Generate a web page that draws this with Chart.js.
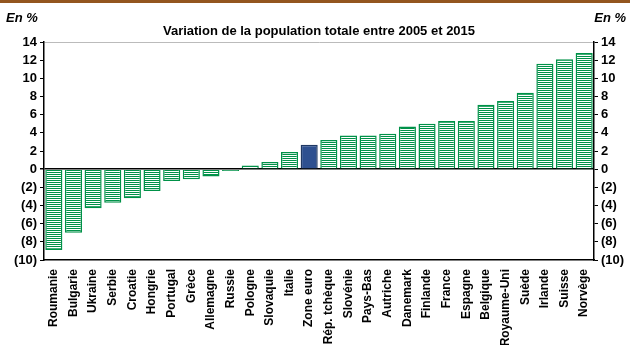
<!DOCTYPE html>
<html>
<head>
<meta charset="utf-8">
<script src="https://cdn.jsdelivr.net/npm/chart.js@4/dist/chart.umd.min.js"></script>
<style>
  html, body { margin: 0; padding: 0; background: #fff; }
  #wrap { width: 630px; height: 345px; }
</style>
</head>
<body>
<div id="wrap"><canvas id="c" width="630" height="345"></canvas></div>
<script>
// Variation de la population totale entre 2005 et 2015, en %
const countries = ["Roumanie", "Bulgarie", "Ukraine", "Serbie", "Croatie", "Hongrie", "Portugal", "Grèce",
  "Allemagne", "Russie", "Pologne", "Slovaquie", "Italie", "Zone euro", "Rép. tchèque", "Slovénie",
  "Pays-Bas", "Autriche", "Danemark", "Finlande", "France", "Espagne", "Belgique", "Royaume-Uni",
  "Suède", "Irlande", "Suisse", "Norvège"];
const variation = [-8.9, -7.0, -4.3, -3.7, -3.2, -2.4, -1.3, -1.1, -0.8, -0.2, 0.4, 0.8, 1.9, 2.7,
  3.2, 3.7, 3.7, 3.9, 4.7, 5.0, 5.3, 5.3, 7.1, 7.5, 8.4, 11.6, 12.1, 12.8];
const highlighted = "Zone euro";
const yMin = -10, yMax = 14, yStep = 2;

const GREEN = "#009148";
const BLUE = "#2E5090";
const BLUE_EDGE = "#1F3864";
const FONT = "'Liberation Sans', Arial, sans-serif";

// horizontal hatch: one green line, one white line
function stripes() {
  const p = document.createElement("canvas");
  p.width = 2; p.height = 2;
  const g = p.getContext("2d");
  g.fillStyle = "#fff"; g.fillRect(0, 0, 2, 2);
  g.fillStyle = GREEN; g.fillRect(0, 0, 2, 1);
  return g.createPattern(p, "repeat");
}
const hatch = stripes();

const fmt = v => v < 0 ? "(" + Math.abs(v) + ")" : String(v);

const decor = {
  id: "decor",
  beforeDraw(chart) {
    const ctx = chart.ctx;
    ctx.save();
    ctx.fillStyle = "#93561F";
    ctx.fillRect(0, 0, chart.width, 3);
    ctx.restore();
  },
  afterDraw(chart) {
    const ctx = chart.ctx, a = chart.chartArea;
    ctx.save();
    ctx.fillStyle = "#000";
    ctx.textBaseline = "middle";
    ctx.font = "italic bold 13px " + FONT;
    ctx.textAlign = "left";
    ctx.fillText("En %", 6, 18);
    ctx.textAlign = "right";
    ctx.fillText("En %", chart.width - 4, 18);
    ctx.font = "bold 13px " + FONT;
    ctx.textAlign = "center";
    ctx.fillText("Variation de la population totale entre 2005 et 2015", (a.left + a.right) / 2, 31);
    ctx.restore();
  }
};

const yTicks = {
  stepSize: yStep, autoSkip: false, color: "#000", padding: 3,
  font: { family: FONT, size: 13, weight: "bold" },
  callback: fmt
};

new Chart(document.getElementById("c"), {
  type: "bar",
  data: {
    labels: countries,
    datasets: [{
      data: variation,
      yAxisID: "y",
      backgroundColor: countries.map(c => c === highlighted ? BLUE : hatch),
      borderColor: countries.map(c => c === highlighted ? BLUE_EDGE : GREEN),
      borderWidth: 1.5,
      barPercentage: 0.87,
      categoryPercentage: 1.0
    }]
  },
  options: {
    responsive: false,
    animation: false,
    devicePixelRatio: 1,
    layout: { padding: { top: 42, left: 0, right: 0, bottom: 0 } },
    plugins: { legend: { display: false }, tooltip: { enabled: false } },
    scales: {
      x: {
        grid: { display: false, drawTicks: false },
        border: { display: true, color: "#000", width: 1.5 },
        ticks: {
          color: "#000", font: { family: FONT, size: 12, weight: "bold" },
          minRotation: 90, maxRotation: 90, autoSkip: false, padding: 9
        },
        afterFit(s) { s.height = 85; }
      },
      y: {
        position: "left",
        min: yMin, max: yMax,
        grid: {
          color: c => c.tick.value === 0 ? "#000" : (c.tick.value === yMax ? "#BBBBBB" : "rgba(0,0,0,0)"),
          lineWidth: c => c.tick.value === 0 ? 1.5 : 1,
          tickColor: "#000", tickLength: 4
        },
        border: { display: true, color: "#000", width: 1.5 },
        ticks: yTicks,
        afterFit(s) { s.width = 44; }
      },
      y2: {
        position: "right",
        min: yMin, max: yMax,
        grid: { drawOnChartArea: false, tickColor: "#000", tickLength: 4 },
        border: { display: true, color: "#000", width: 1.5 },
        ticks: yTicks,
        afterFit(s) { s.width = 36; }
      }
    }
  },
  plugins: [decor]
});
</script>
</body>
</html>
